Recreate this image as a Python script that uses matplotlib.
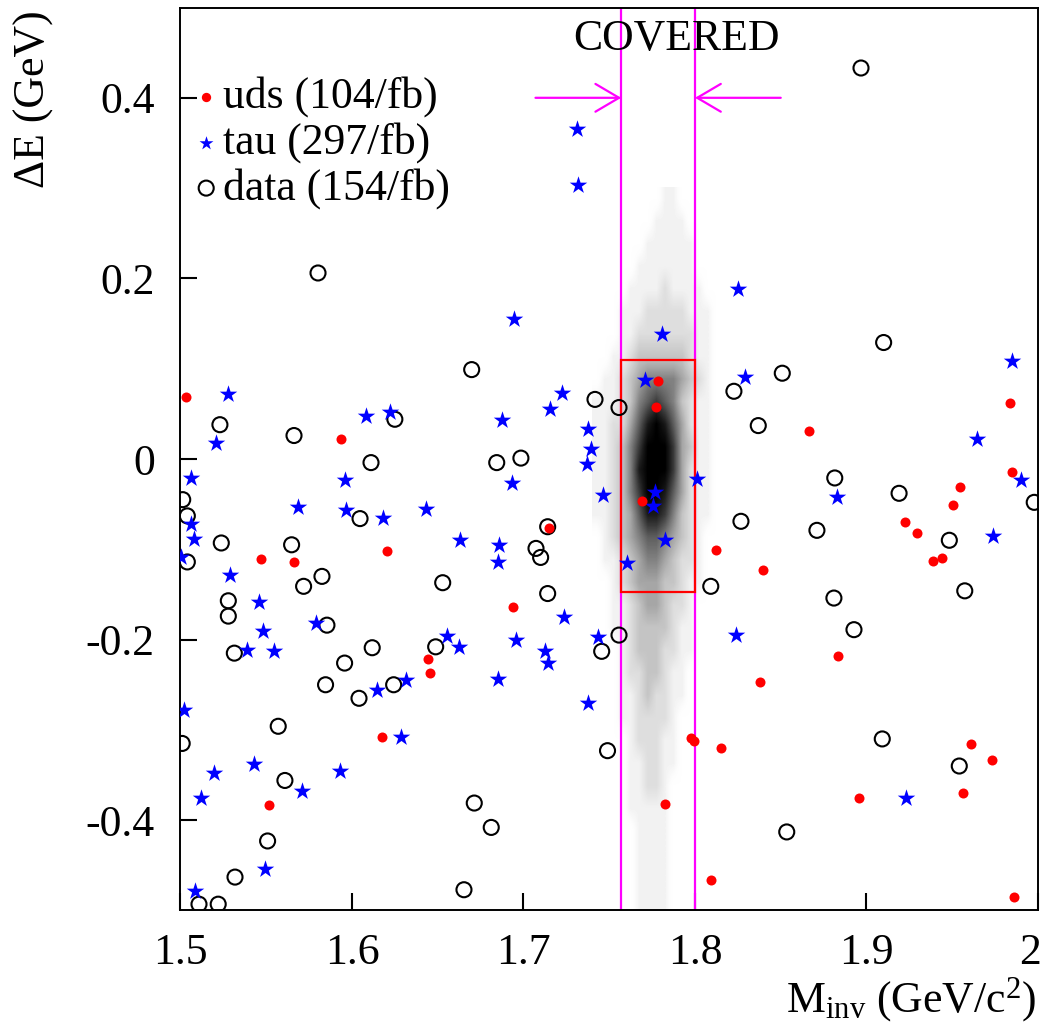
import numpy as np
import matplotlib
matplotlib.use("Agg")
import matplotlib.pyplot as plt
from matplotlib.colors import LinearSegmentedColormap
from matplotlib.patches import Rectangle
from matplotlib.transforms import ScaledTranslation

plt.rcParams['font.family'] = ['Liberation Serif', 'DejaVu Serif']
plt.rcParams['mathtext.fontset'] = 'custom'
plt.rcParams['mathtext.rm'] = 'Liberation Serif'
plt.rcParams['mathtext.it'] = 'Liberation Serif:italic'
plt.rcParams['axes.unicode_minus'] = False

# ---------------------------------------------------------------------------
# data: (M_inv, dE)
# ---------------------------------------------------------------------------
uds_m = [1.5032, 1.5936, 1.6204, 1.5471, 1.5664, 1.7149, 1.6937, 1.6441, 1.6457,
         1.6177, 1.5518, 1.7784, 1.7771, 1.7691, 1.8663, 1.9837, 1.9849, 1.9545,
         1.9506, 1.9225, 1.9296, 1.8121, 1.9440, 1.9386, 1.8398, 1.8834, 1.8381,
         1.7975, 1.7996, 1.8152, 1.9610, 1.9730, 1.9563, 1.8958, 1.7825, 1.8092,
         1.9860]
uds_de = [0.069, 0.022, -0.102, -0.111, -0.114, -0.076, -0.164, -0.222, -0.237,
          -0.308, -0.383, 0.086, 0.058, -0.047, 0.031, 0.062, -0.014, -0.031,
          -0.051, -0.070, -0.082, -0.101, -0.110, -0.113, -0.123, -0.218, -0.247,
          -0.309, -0.312, -0.320, -0.316, -0.333, -0.370, -0.375, -0.382, -0.466,
          -0.485]

tau_m = [1.7310, 1.7320, 1.8250, 1.6947, 1.5279, 1.7223, 1.7153, 1.6082, 1.6220,
         1.6877, 1.7374, 1.5209, 1.7392, 1.7372, 1.5059, 1.5959, 1.6931, 1.7462,
         1.5687, 1.5963, 1.6183, 1.6431, 1.5059, 1.5080, 1.6632, 1.6859, 1.6850,
         1.5003, 1.5290, 1.5458, 1.7808, 1.7709, 1.8292, 1.9850, 1.9644, 1.8010,
         1.9899, 1.7769, 1.7757, 1.8828, 1.7827, 1.7603, 1.9740, 1.5788, 1.5483,
         1.5386, 1.5545, 1.6552, 1.6622, 1.6955, 1.7238, 1.7127, 1.7145, 1.7436,
         1.6315, 1.6148, 1.6853, 1.7374, 1.5022, 1.6286, 1.5430, 1.5930, 1.5195,
         1.5707, 1.5118, 1.5493, 1.5085, 1.8237, 1.9232]
tau_de = [0.365, 0.303, 0.188, 0.155, 0.072, 0.073, 0.055, 0.048, 0.052,
          0.043, 0.033, 0.018, 0.011, -0.005, -0.021, -0.023, -0.027, -0.040,
          -0.053, -0.057, -0.065, -0.055, -0.072, -0.089, -0.090, -0.095, -0.114,
          -0.108, -0.128, -0.158, 0.138, 0.087, 0.091, 0.109, 0.022, -0.022,
          -0.023, -0.037, -0.052, -0.042, -0.090, -0.115, -0.085, -0.182, -0.191,
          -0.211, -0.213, -0.196, -0.208, -0.200, -0.175, -0.213, -0.226, -0.197,
          -0.245, -0.256, -0.244, -0.270, -0.278, -0.308, -0.338, -0.346, -0.348,
          -0.368, -0.375, -0.454, -0.478, -0.195, -0.375]

data_m = [1.5802, 1.8968, 1.6698, 1.7417, 1.7557, 1.5230, 1.5662, 1.6250, 1.6111,
          1.6844, 1.6985, 1.5013, 1.5040, 1.6047, 1.7141, 1.5238, 1.5648, 1.5040,
          1.7073, 1.7100, 1.5825, 1.5718, 1.6529, 1.7141, 1.5279, 1.9100, 1.8509,
          1.8227, 1.8369, 1.8815, 1.9190, 1.9978, 1.8268, 1.8711, 1.9483, 1.8092,
          1.8810, 1.9573, 1.5279, 1.5854, 1.5314, 1.6118, 1.6488, 1.5957, 1.5846,
          1.6243, 1.6041, 1.7456, 1.7557, 1.5570, 1.5010, 1.7490, 1.5609, 1.6713,
          1.6812, 1.5508, 1.5318, 1.6653, 1.5108, 1.5220, 1.8927, 1.9092, 1.9541,
          1.8535]
data_de = [0.206, 0.433, 0.099, 0.066, 0.057, 0.038, 0.026, 0.044, -0.004,
           -0.004, 0.001, -0.045, -0.063, -0.066, -0.075, -0.093, -0.095, -0.114,
           -0.099, -0.109, -0.130, -0.141, -0.137, -0.149, -0.157, 0.129, 0.095,
           0.075, 0.037, -0.021, -0.038, -0.048, -0.069, -0.079, -0.090, -0.141,
           -0.154, -0.146, -0.174, -0.184, -0.215, -0.209, -0.208, -0.226, -0.250,
           -0.250, -0.265, -0.213, -0.195, -0.296, -0.315, -0.323, -0.356, -0.381,
           -0.408, -0.423, -0.463, -0.477, -0.493, -0.493, -0.189, -0.310, -0.340,
           -0.413]

# signal MC cloud, coarse density (0 = empty .. 9 = solid)
# columns: M_inv 1.740 .. 1.815 in 0.005 steps, rows: dE 0.30 (top) .. -0.50
cloud_x_range = (1.740, 1.815)
cloud_y_range = (-0.50, 0.30)
cloud_rows = [
    "000000001100000",
    "000000011110000",
    "000000111111000",
    "000001111111000",
    "000011112111100",
    "000111222221110",
    "000112222222110",
    "001123333332110",
    "011234555543210",
    "111235676532110",
    "112246898642110",
    "112357999743110",
    "112358999742110",
    "112357998642110",
    "112346887532110",
    "012345665432100",
    "011234554322100",
    "001234443321100",
    "001123443221000",
    "001123333211000",
    "000123332211000",
    "000122332110000",
    "000112322110000",
    "000112222100000",
    "000012221100000",
    "000011221100000",
    "000011221000000",
    "000011111000000",
    "000001111000000",
    "000001111000000",
    "000001111000000",
    "000001111000000",
]

covered_lo, covered_hi = 1.757, 1.800
box_m = (1.757, 1.800)
box_de = (-0.147, 0.110)

legend_labels = ["uds (104/fb)", "tau (297/fb)", "data (154/fb)"]

x_ticks = [1.5, 1.6, 1.7, 1.8, 1.9, 2.0]
x_ticklabels = ["1.5", "1.6", "1.7", "1.8", "1.9", "2"]
y_ticks = [-0.4, -0.2, 0.0, 0.2, 0.4]
y_ticklabels = ["-0.4", "-0.2", "0", "0.2", "0.4"]

RED, BLUE, MAGENTA = "#ff0000", "#0000ff", "#ff00ff"
FS = 31.5

# ---------------------------------------------------------------------------
fig = plt.figure(figsize=(10.45, 10.28), dpi=100)
ax = fig.add_axes([0.1727, 0.1143, 0.8206, 0.8784])
ax.set_xlim(1.5, 2.0)
ax.set_ylim(-0.5, 0.5)

dens = np.array([[int(c) for c in row] for row in cloud_rows], dtype=float)
greys = [1.0, 0.95, 0.87, 0.77, 0.65, 0.51, 0.37, 0.23, 0.1, 0.0]
cmap = LinearSegmentedColormap.from_list(
    "cloud", [(i / 9, (g, g, g, 0.0 if i == 0 else 1.0))
              for i, g in enumerate(greys)])
ax.imshow(dens, extent=[*cloud_x_range, *cloud_y_range], origin="upper",
          aspect="auto", interpolation="bilinear", cmap=cmap, vmin=0, vmax=9,
          zorder=1)

for xv in (covered_lo, covered_hi):
    ax.axvline(xv, color=MAGENTA, lw=1.6, zorder=2)
ax.annotate("", xy=(covered_lo, 0.4), xytext=(covered_lo - 0.05, 0.4),
            arrowprops=dict(arrowstyle="->,head_length=1.7,head_width=1.0",
                            color=MAGENTA, lw=1.6, shrinkA=0, shrinkB=0))
ax.annotate("", xy=(covered_hi, 0.4), xytext=(covered_hi + 0.05, 0.4),
            arrowprops=dict(arrowstyle="->,head_length=1.7,head_width=1.0",
                            color=MAGENTA, lw=1.6, shrinkA=0, shrinkB=0))
ax.text(1.7895, 0.465, "COVERED", fontsize=FS, ha="center", va="center")

ax.add_patch(Rectangle((box_m[0], box_de[0]), box_m[1] - box_m[0],
                       box_de[1] - box_de[0], fill=False, ec=RED, lw=1.6,
                       zorder=3))

ax.scatter(data_m, data_de, s=117, marker="o", facecolors="none",
           edgecolors="black", linewidths=1.5, zorder=4)
ax.scatter(tau_m, tau_de, s=175, marker="*", color=BLUE, linewidths=0,
           zorder=5)
ax.scatter(uds_m, uds_de, s=52, marker="o", color=RED, linewidths=0,
           zorder=6)

# hand-placed legend, as in the original
leg_x, leg_y = 1.515, [0.401, 0.350, 0.300]
ax.scatter([leg_x], [leg_y[0]], s=45, marker="o", color=RED, linewidths=0)
ax.scatter([leg_x], [leg_y[1]], s=110, marker="*", color=BLUE, linewidths=0)
ax.scatter([leg_x], [leg_y[2]], s=117, marker="o", facecolors="none",
           edgecolors="black", linewidths=1.5)
for yv, lab in zip(leg_y, legend_labels):
    ax.text(leg_x + 0.0098, yv, lab, fontsize=FS, ha="left", va="center")

ax.set_xticks(x_ticks)
ax.set_xticklabels(x_ticklabels)
ax.set_yticks(y_ticks)
ax.set_yticklabels(y_ticklabels)
ax.tick_params(direction="in", length=12, width=1.5, labelsize=FS,
               top=False, right=False)
ax.tick_params(axis="x", pad=16)
ax.tick_params(axis="y", pad=18.5)
# keep the last x label ("2") inside the canvas
last = ax.get_xticklabels()[-1]
last.set_transform(last.get_transform() +
                   ScaledTranslation(-6 / 72, 0, fig.dpi_scale_trans))
for sp in ax.spines.values():
    sp.set_linewidth(1.4)

fig.text(1036 / 1045, 16 / 1028, r"M$_{\mathrm{inv}}$ (GeV/c$^{2}$)",
         fontsize=FS, ha="right", va="baseline")
fig.text(34 / 1045, 1 - 10 / 1028, "ΔE (GeV)", fontsize=FS, rotation=90,
         ha="center", va="top")

fig.savefig("out.png", dpi=100)
